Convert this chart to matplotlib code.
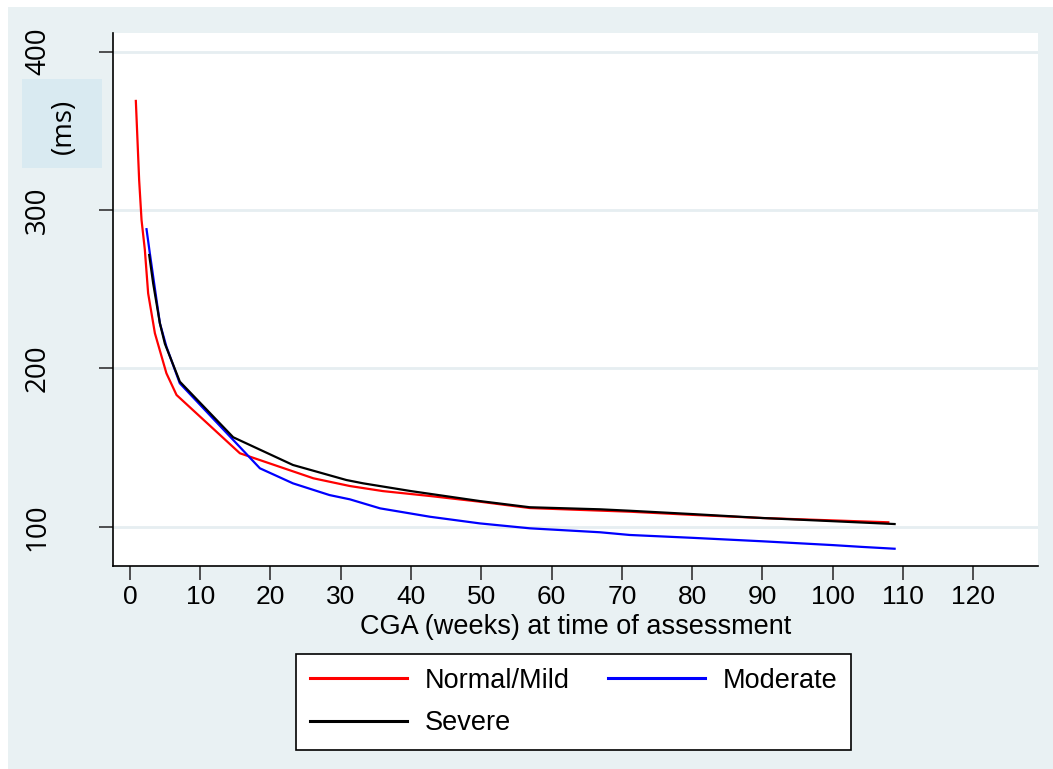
import matplotlib.pyplot as plt
from matplotlib.patches import Rectangle

# QTc-style interval (ms) against corrected gestational age, by severity group
mild_x = [0.85, 1.32, 1.66, 2.13, 2.6, 3.56, 5.2, 6.64, 15.65, 26.1, 31.3,
          36.0, 42.7, 49.8, 56.9, 63.0, 71.1, 80.0, 90.0, 100.0, 107.9]
mild_y = [368.9, 318.9, 293.7, 274.9, 247.4, 222.2, 196.9, 183.2, 146.4, 130.6, 125.7,
          122.5, 119.4, 115.8, 111.8, 110.8, 109.5, 107.5, 105.5, 104.0, 102.8]

moderate_x = [2.37, 2.84, 4.27, 5.2, 7.1, 18.5, 23.2, 28.4, 31.3, 35.6, 42.7,
              49.8, 56.9, 66.9, 71.1, 80.0, 90.0, 100.0, 104.0, 106.0, 108.8]
moderate_y = [287.9, 272.7, 228.5, 213.7, 190.6, 136.9, 127.4, 120.0, 117.3, 111.6, 106.3,
              102.1, 99.0, 96.5, 94.8, 93.0, 90.8, 88.4, 87.3, 86.8, 86.1]

severe_x = [2.75, 3.31, 4.27, 4.98, 7.11, 14.7, 23.2, 30.8, 33.2, 40.0, 49.8,
            56.9, 66.9, 71.1, 80.0, 90.0, 100.0, 108.8]
severe_y = [271.6, 253.8, 228.5, 215.6, 191.6, 156.5, 139.0, 129.5, 127.4, 122.5, 116.2,
            112.3, 111.0, 110.1, 108.0, 105.5, 103.5, 101.7]

x_ticks = list(range(0, 121, 10))
y_ticks = [100, 200, 300, 400]

bg = "#e9f1f3"
W, H = 1053, 769

fig = plt.figure(figsize=(W / 100, H / 100), dpi=100, facecolor="white")
fig.patches.append(Rectangle((8 / W, 0), 1, 1 - 7 / H, transform=fig.transFigure,
                             facecolor=bg, edgecolor="none", zorder=-10))

ax = fig.add_axes([113 / W, 1 - 566 / H, 925 / W, 533 / H])
ax.set_facecolor("white")

h_mild, = ax.plot(mild_x, mild_y, color="#ff0000", lw=1.6, label="Normal/Mild", zorder=3)
h_mod, = ax.plot(moderate_x, moderate_y, color="#0000ff", lw=1.6, label="Moderate", zorder=3)
h_sev, = ax.plot(severe_x, severe_y, color="black", lw=1.6, label="Severe", zorder=4)

ax.set_xlim(-2.4, 129.2)
ax.set_ylim(75.2, 411.8)

ax.set_yticks(y_ticks)
ax.set_xticks(x_ticks)
ax.yaxis.grid(True, color="#e6eef1", lw=2)
ax.set_axisbelow(True)

for side in ["top", "right"]:
    ax.spines[side].set_visible(False)
for side in ["left", "bottom"]:
    ax.spines[side].set_color("black")
    ax.spines[side].set_linewidth(1.2)

ax.tick_params(axis="both", direction="out", length=10, width=1.2, color="#333333",
               labelcolor="black")
ax.tick_params(axis="x", labelsize=19, pad=4)
ax.tick_params(axis="y", labelsize=20, pad=34)
for lbl in ax.get_xticklabels():
    lbl.set_fontfamily("Liberation Sans")
for lbl in ax.get_yticklabels():
    lbl.set_fontfamily("Open Sans")
    lbl.set_rotation(90)
    lbl.set_va("center")

ax.set_xlabel("CGA (weeks) at time of assessment", fontsize=19.5,
              family="Liberation Sans", labelpad=3)

# y-axis title sits in a shaded box to the left of the tick labels
fig.patches.append(Rectangle((22 / W, 1 - 168 / H), 80 / W, 89 / H, transform=fig.transFigure,
                             facecolor="#d9eaf1", edgecolor="none", zorder=-5))
fig.text(64 / W, 1 - 126 / H, "(ms)", rotation=90, fontsize=20, family="Open Sans",
         ha="center", va="center")

# ncol=2 fills column-first, so order handles to read row-wise
leg = fig.legend([h_mild, h_sev, h_mod], ["Normal/Mild", "Severe", "Moderate"],
                 loc="upper left", bbox_to_anchor=(296 / W, 1 - 654 / H), ncol=2,
                 frameon=True, fancybox=False, framealpha=1, borderaxespad=0,
                 prop={"family": "Liberation Sans", "size": 19.5},
                 handlelength=3.6, handletextpad=0.65, columnspacing=1.4,
                 borderpad=0.5, labelspacing=0.62)
leg.get_frame().set_edgecolor("black")
leg.get_frame().set_facecolor("white")
leg.get_frame().set_linewidth(1.2)
for line in leg.get_lines():
    line.set_linewidth(2.2)

fig.savefig("out.png", dpi=100, facecolor=fig.get_facecolor())
